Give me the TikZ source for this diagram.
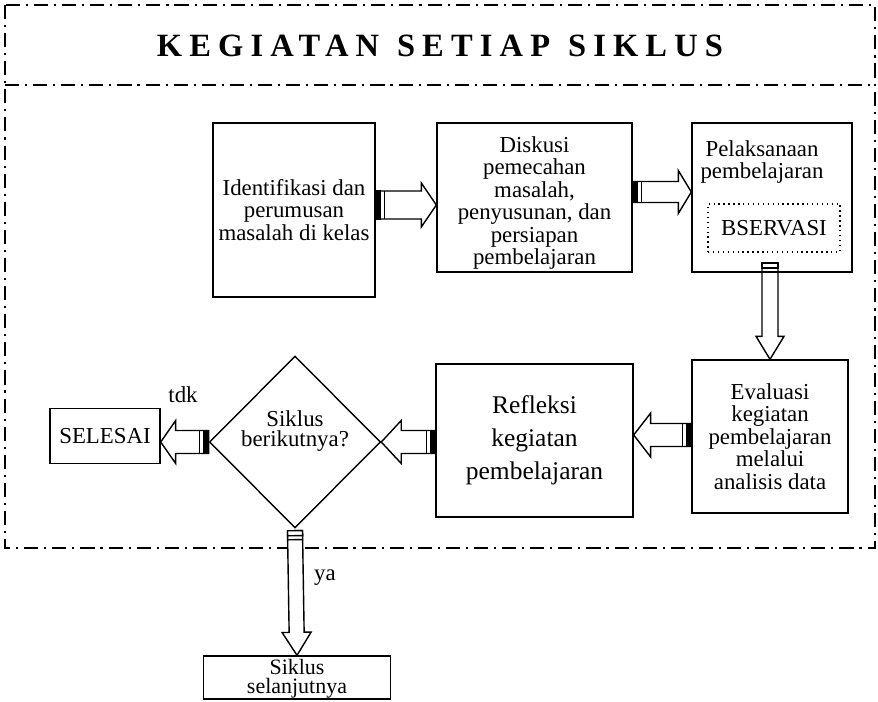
\documentclass[tikz,border=0pt]{standalone}
\usepackage{fontspec}
\setmainfont{Liberation Serif}
\newfontfamily\titlefont[LetterSpace=22]{Liberation Serif}
\usetikzlibrary{shapes.geometric,calc}

% block arrow: from, to, body half width, head half width, head length, tail fill
\newcommand{\barrow}[6]{%
  \coordinate (bh) at ($(#2)!#5!(#1)$);
  \coordinate (bt) at ($(#1)!0.1cm!(#2)$);
  \coordinate (bs) at ($(#1)!0.18cm!(#2)$);
  \draw[fill=white] ($(#1)!#3!90:(#2)$) -- ($(bh)!#3!90:(#2)$) -- ($(bh)!#4!90:(#2)$)
    -- (#2) -- ($(bh)!#4!-90:(#2)$) -- ($(bh)!#3!-90:(#2)$) -- ($(#1)!#3!-90:(#2)$) -- cycle;
  \draw[fill=#6] ($(#1)!#3!90:(#2)$) -- ($(bt)!#3!90:(#2)$) -- ($(bt)!#3!-90:(#2)$)
    -- ($(#1)!#3!-90:(#2)$) -- cycle;
  \draw ($(bs)!#3!90:(#2)$) -- ($(bs)!#3!-90:(#2)$);
}

\tikzset{
  box/.style={draw, align=center, inner sep=2pt, font=\fontsize{13}{12.8}\selectfont},
  dbox/.style={draw, dotted, align=center, font=\fontsize{13}{13}\selectfont},
  cond/.style={draw, diamond, align=center, inner sep=0pt, font=\fontsize{13}{11.5}\selectfont},
  frame/.style={line width=0.7pt, dash pattern=on 8pt off 3.4pt on 1.2pt off 3.4pt},
  lbl/.style={align=center, font=\fontsize{13}{12.8}\selectfont}
}

\begin{document}
\begin{tikzpicture}[x=0.02cm, y=-0.02cm, line width=0.8pt]
    \useasboundingbox (0,0) rectangle (878,702);
    % frame and title
    \draw[frame] (5,5) rectangle (875,548);
    \draw[frame] (5,85) -- (875,85);
    \node (title) at (440,46) {\titlefont\bfseries\fontsize{18.5}{18.5}\selectfont KEGIATAN\hspace{0.55em}SETIAP\hspace{0.55em}SIKLUS};

    % upper row
    \node[box, minimum width=3.24cm, minimum height=3.48cm] (b1) at (294,210)
        {Identifikasi dan\\perumusan\\masalah di kelas};
    \node[box, minimum width=3.9cm, minimum height=2.98cm] (b2) at (534.5,197.5) {};
    \node[lbl] (b2t) at (534.5,203)
        {Diskusi\\pemecahan\\masalah,\\penyusunan, dan\\persiapan\\pembelajaran};
    \node[box, minimum width=3.2cm, minimum height=2.98cm] (b3) at (772,197.5) {};
    \node[lbl] (b3t) at (762,162) {Pelaksanaan\\pembelajaran};
    \node[dbox, minimum width=2.64cm, minimum height=0.96cm] (obs) at (774,228) {BSERVASI};

    % lower row
    \node[box, minimum width=3.12cm, minimum height=3.06cm] (b4) at (770,436.5)
        {Evaluasi\\kegiatan\\pembelajaran\\melalui\\analisis data};
    \node[box, minimum width=3.94cm, minimum height=3.06cm, font=\fontsize{14.5}{18.7}\selectfont] (b5) at (534.5,440.5)
        {Refleksi\\kegiatan\\pembelajaran};
    \node[cond, minimum width=3.2cm, minimum height=3.44cm] (d) at (295,442) {Siklus\\berikutnya?\\[4pt]};
    \node[box, minimum width=2.2cm, minimum height=1.1cm] (s) at (105,436) {SELESAI};
    \node[box, minimum width=3.74cm, minimum height=0.86cm] (n) at (297,677.5) {};
    \node[lbl, font=\fontsize{12.5}{11}\selectfont] (nt) at (297,679) {Siklus\\selanjutnya};

    \node[lbl] (tdk) at (183,395) {tdk};
    \node[lbl] (ya) at (325,578) {ya};

    % arrows
    \coordinate (a1) at (b1.east |- 0,205);
    \coordinate (a2) at (b2.east |- 0,192);
    \coordinate (a3) at (770,263);
    \coordinate (a4) at (b4.west |- 0,435);
    \coordinate (a5) at (b5.west |- d.east);
    \coordinate (a7) at ($(d.south)+(0,2)$);
    \barrow{a1}{b2.west |- a1}{0.28cm}{0.44cm}{0.3cm}{black}
    \barrow{a2}{b3.west |- a2}{0.21cm}{0.43cm}{0.26cm}{black}
    \barrow{a3}{b4.north}{0.16cm}{0.28cm}{0.46cm}{white}
    \barrow{a4}{b5.east |- a4}{0.23cm}{0.44cm}{0.34cm}{black}
    \barrow{a5}{d.east}{0.23cm}{0.43cm}{0.4cm}{black}
    \barrow{d.west}{s.east |- d.west}{0.23cm}{0.43cm}{0.3cm}{black}
    \barrow{a7}{n.north}{0.15cm}{0.29cm}{0.46cm}{white}
\end{tikzpicture}
\end{document}
